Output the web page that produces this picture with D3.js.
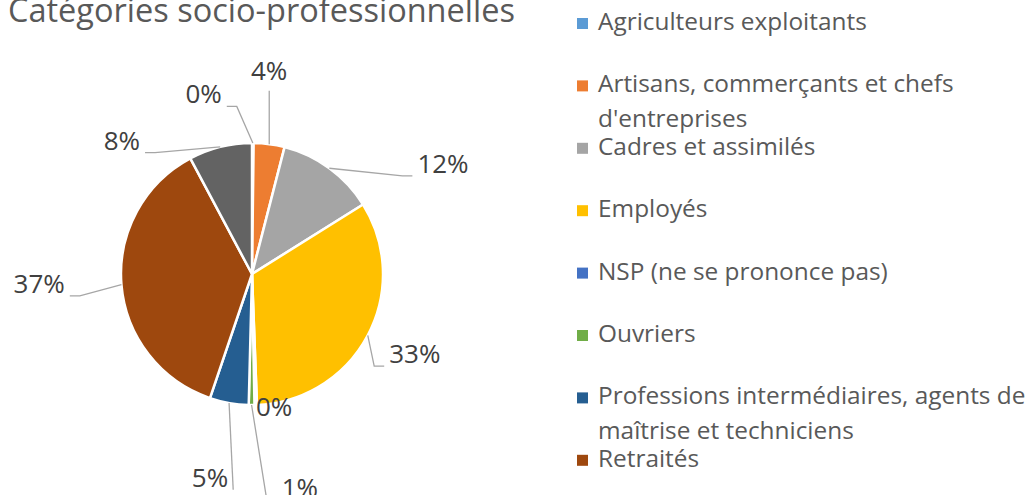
<!DOCTYPE html>
<html lang="fr">
  <head>
    <meta charset="UTF-8" />
    <title>Catégories socio-professionnelles</title>
    <style>
      html, body { margin: 0; padding: 0; background: #fff; }
      svg { display: block; font-family: "Open Sans", sans-serif; }
    </style>
  </head>
  <body>
    <svg width="1030" height="495"></svg>

    <script src="https://d3js.org/d3.v7.min.js"></script>
    <script>
      // Data (in %)
      const categories = [
        "Agriculteurs exploitants",
        "Artisans, commerçants et chefs d'entreprises",
        "Cadres et assimilés",
        "Employés",
        "NSP (ne se prononce pas)",
        "Ouvriers",
        "Professions intermédiaires, agents de maîtrise et techniciens",
        "Retraités",
        "Sans activité professionnelle"
      ];
      const values = [0.2, 3.8, 12.1, 33.3, 0.3, 0.7, 4.8, 37.0, 7.8];
      const colors = ["#5B9BD5", "#ED7D31", "#A5A5A5", "#FFC000", "#4472C4",
                      "#70AD47", "#255E91", "#9E480E", "#636363"];
      // legend text, pre-wrapped like the original
      const legendLines = [
        ["Agriculteurs exploitants"],
        ["Artisans, commerçants et chefs", "d'entreprises"],
        ["Cadres et assimilés"],
        ["Employés"],
        ["NSP (ne se prononce pas)"],
        ["Ouvriers"],
        ["Professions intermédiaires, agents de", "maîtrise et techniciens"],
        ["Retraités"],
        ["Sans activité professionnelle"]
      ];
      // label placement (polar, degrees clockwise from 12 o'clock, distance from centre)
      const labelAngle = [345, 4.8, 59.8, 115.9, 170.5, 167.3, 191.7, 267.6, 315.9];
      const labelDist = [187, 205, 221, 181, 134, 218, 207, 213, 187];

      const w = 1030, h = 495;
      const cx = 252, cy = 274, r = 131;

      const svg = d3.select("svg");

      svg.append("text")
        .attr("x", 8)
        .attr("y", 22)
        .attr("fill", "#595959")
        .style("font-size", "32.5px")
        .text("Catégories socio-professionnelles");

      const data = categories.map((c, i) => ({ name: c, value: values[i], i }));

      const pie = d3.pie().sort(null).value(d => d.value);
      const arcs = pie(data);
      const arc = d3.arc().innerRadius(0).outerRadius(r);

      const g = svg.append("g").attr("transform", `translate(${cx},${cy})`);

      g.selectAll("path.slice")
        .data(arcs)
        .enter()
        .append("path")
        .attr("class", "slice")
        .attr("d", arc)
        .attr("fill", d => colors[d.data.i])
        .attr("stroke", "#fff")
        .attr("stroke-width", 2.5)
        .attr("stroke-linejoin", "round");

      const polar = (deg, dist) => {
        const a = deg * Math.PI / 180;
        return [dist * Math.sin(a), -dist * Math.cos(a)];
      };

      const fmt = d3.format(".0f");

      // labels
      const labels = g.selectAll("text.lbl")
        .data(arcs)
        .enter()
        .append("text")
        .attr("class", "lbl")
        .attr("fill", "#404040")
        .style("font-size", "26px")
        .attr("text-anchor", "middle")
        .attr("dominant-baseline", "central")
        .attr("x", d => polar(labelAngle[d.data.i], labelDist[d.data.i])[0])
        .attr("y", d => polar(labelAngle[d.data.i], labelDist[d.data.i])[1])
        .text(d => fmt(d.data.value) + "%");

      // leader lines
      labels.each(function (d) {
        const i = d.data.i;
        if (labelDist[i] < r + 25) return;
        const bb = this.getBBox();
        const mid = (d.startAngle + d.endAngle) / 2 * 180 / Math.PI;
        const s = polar(mid, r);
        let pts;
        if (s[0] >= bb.x && s[0] <= bb.x + bb.width) {
          const yEnd = s[1] < bb.y ? bb.y - 3 : bb.y + bb.height + 3;
          pts = [s, [s[0], yEnd]];
        } else {
          const left = bb.x + bb.width / 2 > s[0];
          const ex = left ? bb.x - 5 : bb.x + bb.width + 5;
          const ey = bb.y + bb.height - 5;
          let elx = left ? ex - 10 : ex + 10;
          if (Math.abs(s[0] - ex) < 10) elx = ex;
          pts = [s, [elx, ey], [ex, ey]];
        }
        g.append("polyline")
          .attr("points", pts.map(p => p.join(",")).join(" "))
          .attr("fill", "none")
          .attr("stroke", "#A6A6A6")
          .attr("stroke-width", 1.3);
      });

      // legend (entries that fall below the frame are cut off, as in the original)
      const legY = d3.scaleLinear().domain([0, 1]).range([30, 92.4]);
      const legend = svg.append("g").attr("transform", "translate(577,0)");
      const items = legend.selectAll("g.item")
        .data(data.filter(d => legY(d.i) < h))
        .enter()
        .append("g")
        .attr("class", "item")
        .attr("transform", d => `translate(0,${legY(d.i)})`);

      items.append("rect")
        .attr("x", 0)
        .attr("y", -12)
        .attr("width", 11)
        .attr("height", 11)
        .attr("fill", d => colors[d.i]);

      items.append("text")
        .attr("fill", "#595959")
        .style("font-size", "24.4px")
        .selectAll("tspan")
        .data(d => legendLines[d.i])
        .enter()
        .append("tspan")
        .attr("x", 21)
        .attr("y", (d, k) => k * 35)
        .text(d => d);
    </script>
  </body>
</html>
